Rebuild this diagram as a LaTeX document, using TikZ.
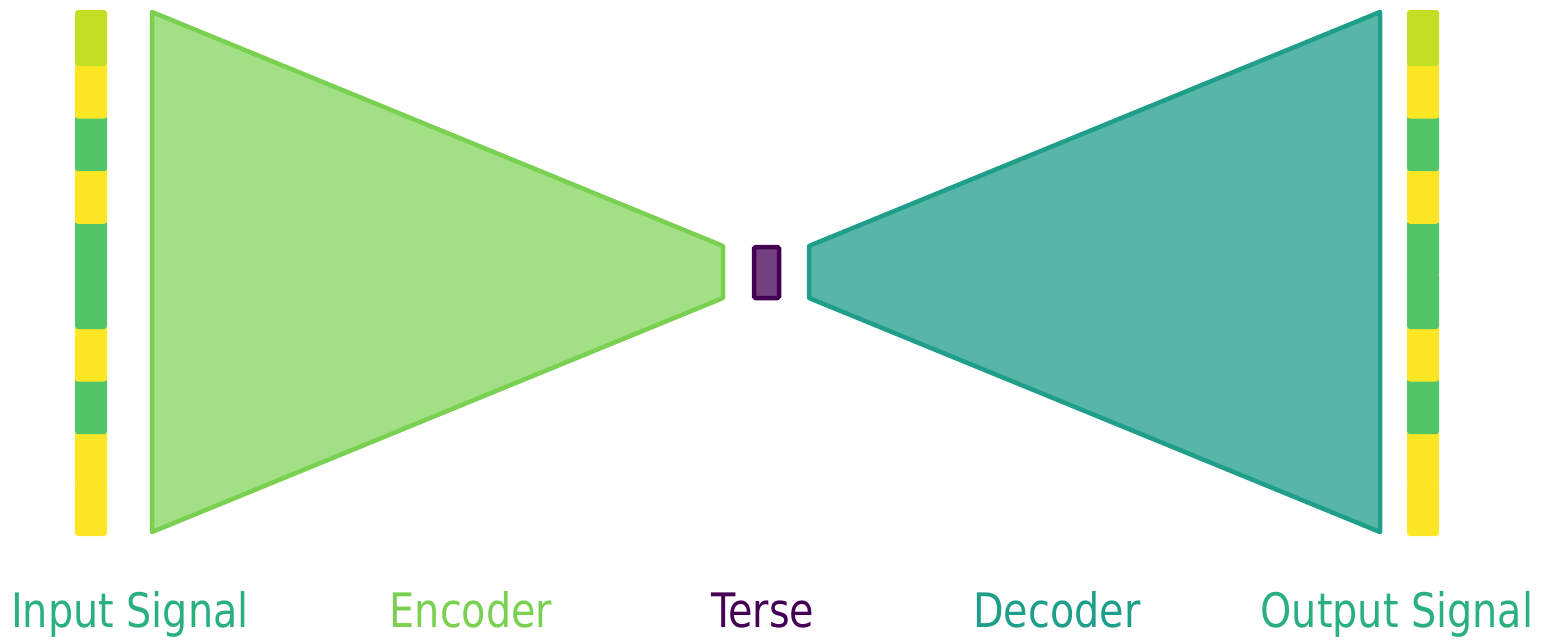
\documentclass[tikz,border=0pt]{standalone}
\usepackage{fontspec}
\setmainfont[FakeStretch=0.93]{DejaVu Sans Condensed}
\definecolor{lime}{HTML}{C2DF23}
\definecolor{yel}{HTML}{FDE725}
\definecolor{grn}{HTML}{52C569}
\definecolor{enc}{HTML}{7AD151}
\definecolor{dec}{HTML}{1F9E89}
\definecolor{ter}{HTML}{440154}
\definecolor{sig}{HTML}{2AB07F}
\begin{document}
\begin{tikzpicture}[x=1pt,y=-1pt,
  seg/.style={draw=none,rounded corners=3pt},
  shapeline/.style={line width=4.5pt,line join=round},
  lab/.style={anchor=base,inner sep=0pt,font=\fontsize{47.5}{50}\selectfont}]
\useasboundingbox (0,0) rectangle (1550,640);
% signal bars, drawn bottom-up so upper segments overlap lower ones
\foreach \bx/\nm in {75/in,1407/out}{
  \foreach \k/\c in {9/yel,8/yel,7/grn,6/yel,5/grn,4/grn,3/yel,2/grn,1/yel,0/lime}{
    \pgfmathsetmacro{\top}{10+52.6*\k}
    \pgfmathsetmacro{\bot}{\k==9 ? 536 : \top+56}
    \fill[seg,\c] (\bx,\top) rectangle (\bx+32,\bot);
  }
}
% encoder
\coordinate (e1) at (152,12);
\coordinate (e2) at (723,246);
\coordinate (e3) at (723,298);
\coordinate (e4) at (152,532);
\draw[shapeline,draw=enc,fill=enc,fill opacity=0.7] (e1)--(e2)--(e3)--(e4)--cycle;
% terse
\node[draw=ter,fill=ter,fill opacity=0.75,draw opacity=1,line width=4.5pt,rounded corners=1.5pt,
  minimum width=25pt,minimum height=51pt,inner sep=0pt] (terse) at (766.5,272.5) {};
% decoder
\coordinate (d1) at (809,246);
\coordinate (d2) at (1380,12);
\coordinate (d3) at (1380,532);
\coordinate (d4) at (809,298);
\draw[shapeline,draw=dec,fill=dec,fill opacity=0.75] (d1)--(d2)--(d3)--(d4)--cycle;
% labels
\node[lab,text=sig] (lin) at (130,627.5) {Input Signal};
\node[lab,text=enc] (lenc) at (471,627.5) {Encoder};
\node[lab,text=ter] (lter) at (763,627.5) {Terse};
\node[lab,text=dec] (ldec) at (1057,627.5) {Decoder};
\node[lab,text=sig] (lout) at (1397,627.5) {Output Signal};
\end{tikzpicture}
\end{document}
